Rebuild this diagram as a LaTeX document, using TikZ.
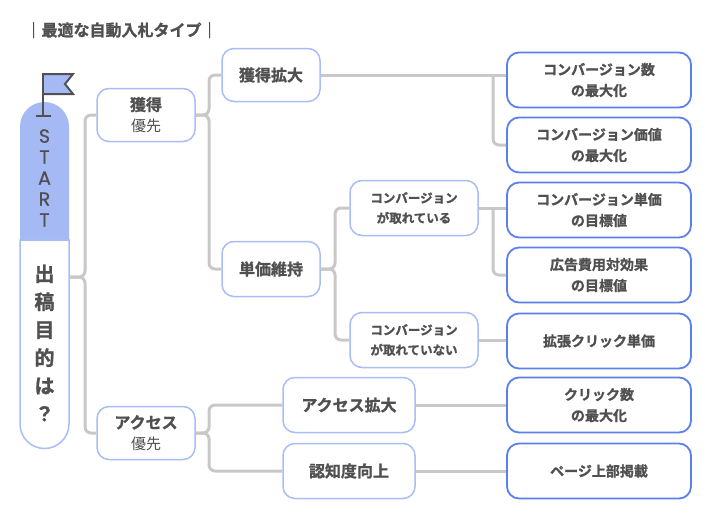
\documentclass[tikz,border=0pt]{standalone}
\usepackage{fontspec}
\setmainfont{Noto Sans CJK JP}[BoldFont={Noto Sans CJK JP Bold}, BoldFeatures={FakeBold=1.2}]
\newfontfamily\latinfont{Poppins}[FakeBold=0.8]
\definecolor{txtgray}{HTML}{505050}
\definecolor{lineg}{HTML}{C8C8C8}
\definecolor{paleblue}{HTML}{A9BDF6}
\definecolor{deepblue}{HTML}{5B7FEE}
\definecolor{flagblue}{HTML}{A5B9F5}
\begin{document}
\begin{tikzpicture}[x=1pt, y=-1pt,
        every node/.style={text=txtgray, font=\bfseries},
        conn/.style={draw=lineg, line width=3pt, rounded corners=6pt},
        mid/.style={draw=paleblue, line width=1.5pt, rounded corners=12pt, fill=white, align=center, minimum width=98pt, minimum height=53pt, font=\fontsize{16}{21}\selectfont\bfseries},
        cv/.style={mid, minimum width=128pt, minimum height=55pt, font=\fontsize{12.5}{20}\selectfont\bfseries},
        acc/.style={mid, minimum width=132pt, minimum height=55pt},
        leaf/.style={draw=deepblue, line width=1.8pt, rounded corners=12pt, fill=white, align=center, minimum width=184pt, minimum height=55pt, font=\fontsize{14}{21}\selectfont\bfseries}
    ]
        \useasboundingbox (0,0) rectangle (712,520);

        % タイトル
        \node[anchor=west, font=\fontsize{16}{18}\selectfont\bfseries] (title) at (22,30) {｜最適な自動入札タイプ｜};

        % スタート
        \draw[fill=flagblue, draw=txtgray, line width=2pt] (43,74) -- (73,74) -- (65,84) -- (73,94) -- (43,94);
        \fill[flagblue] (20,240) -- (20,126.5) arc[start angle=180, end angle=360, radius=24.5] -- (69,240) -- cycle;
        \draw[paleblue, line width=1.5pt, fill=white] (20,240) -- (20,424) arc[start angle=180, end angle=0, radius=24.5] -- (69,240) -- cycle;
        \draw[txtgray, line width=2.5pt] (43,73) -- (43,116) (36,116) -- (51,116);
        \node[font=\latinfont\fontsize{19}{21}\selectfont, align=center] (start) at (44.5,178) {S\\T\\A\\R\\T};
        \node[font=\fontsize{20}{28}\selectfont\bfseries, align=center] (goal) at (44.5,343) {出\\稿\\目\\的\\は\\？};
        \coordinate (pill) at (69,277);

        % 第一階層
        \node[mid] (kakutoku) at (146,115) {獲得\\{\mdseries\fontsize{15}{20}\selectfont 優先}};
        \node[mid] (access) at (146,433) {アクセス\\{\mdseries\fontsize{15}{20}\selectfont 優先}};

        % 第二階層
        \node[mid] (kakudai) at (271,75) {獲得拡大};
        \node[mid, minimum height=55pt] (tanka) at (271,269) {単価維持};
        \node[cv] (toreru) at (414,208) {コンバージョン\\が取れている};
        \node[cv] (torenai) at (414,340) {コンバージョン\\が取れていない};
        \node[acc] (acckakudai) at (349,405) {アクセス拡大};
        \node[acc] (ninchi) at (349,471) {認知度向上};

        % 入札タイプ
        \node[leaf] (cvsu) at (599,80) {コンバージョン数\\の最大化};
        \node[leaf] (cvkachi) at (599,145) {コンバージョン価値\\の最大化};
        \node[leaf] (cpa) at (599,210) {コンバージョン単価\\の目標値};
        \node[leaf] (roas) at (599,275) {広告費用対効果\\の目標値};
        \node[leaf] (ecpc) at (599,341) {拡張クリック単価};
        \node[leaf] (click) at (599,405) {クリック数\\の最大化};
        \node[leaf] (top) at (599,471) {ページ上部掲載};

        % 接続線
        \begin{scope}[on background layer/.try]
        \draw[conn] (pill) -- (85,277) |- (kakutoku.west);
        \draw[conn] (pill) -- (85,277) |- (access.west);
        \draw[conn] (kakutoku.east) -- (209,115) |- (kakudai.west);
        \draw[conn] (kakutoku.east) -- (209,115) |- (tanka.west);
        \draw[conn] (kakudai.east) -- (cvsu.west |- kakudai.east);
        \draw[conn] (493,75) |- (cvkachi.west);
        \draw[conn] (tanka.east) -- (335,269) |- (toreru.west);
        \draw[conn] (tanka.east) -- (335,269) |- (torenai.west);
        \draw[conn] (toreru.east) -- (cpa.west |- toreru.east);
        \draw[conn] (493,208) |- (roas.west);
        \draw[conn] (torenai.east) -- (ecpc.west |- torenai.east);
        \draw[conn] (access.east) -- (209,433) |- (acckakudai.west);
        \draw[conn] (access.east) -- (209,433) |- (ninchi.west);
        \draw[conn] (acckakudai.east) -- (click.west |- acckakudai.east);
        \draw[conn] (ninchi.east) -- (top.west |- ninchi.east);
        \end{scope}
    \end{tikzpicture}
\end{document}
